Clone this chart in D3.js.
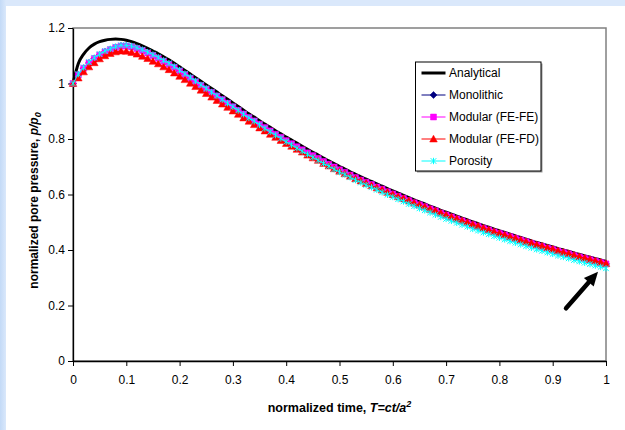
<!DOCTYPE html>
<html>
<head>
<meta charset="utf-8">
<script src="https://cdn.jsdelivr.net/npm/d3@7"></script>
<style>
body { margin: 0; }
text { font-family: "Liberation Sans", Arial, sans-serif; }
</style>
</head>
<body>
<div class="chart"></div>
<script>
// normalized time steps (dt = 0.01)
var timeSteps = [0, 0.01, 0.02, 0.03, 0.04, 0.05, 0.06, 0.07, 0.08, 0.09,
    0.1, 0.11, 0.12, 0.13, 0.14, 0.15, 0.16, 0.17, 0.18, 0.19,
    0.2, 0.21, 0.22, 0.23, 0.24, 0.25, 0.26, 0.27, 0.28, 0.29,
    0.3, 0.31, 0.32, 0.33, 0.34, 0.35, 0.36, 0.37, 0.38, 0.39,
    0.4, 0.41, 0.42, 0.43, 0.44, 0.45, 0.46, 0.47, 0.48, 0.49,
    0.5, 0.51, 0.52, 0.53, 0.54, 0.55, 0.56, 0.57, 0.58, 0.59,
    0.6, 0.61, 0.62, 0.63, 0.64, 0.65, 0.66, 0.67, 0.68, 0.69,
    0.7, 0.71, 0.72, 0.73, 0.74, 0.75, 0.76, 0.77, 0.78, 0.79,
    0.8, 0.81, 0.82, 0.83, 0.84, 0.85, 0.86, 0.87, 0.88, 0.89,
    0.9, 0.91, 0.92, 0.93, 0.94, 0.95, 0.96, 0.97, 0.98, 0.99, 1];

var analytical = [1.000, 1.072, 1.106, 1.128, 1.142, 1.151, 1.156, 1.159, 1.160, 1.159,
    1.156, 1.151, 1.144, 1.136, 1.127, 1.117, 1.107, 1.096, 1.085, 1.073,
    1.060, 1.047, 1.034, 1.021, 1.008, 0.995, 0.982, 0.969, 0.956, 0.943,
    0.930, 0.917, 0.904, 0.891, 0.879, 0.866, 0.854, 0.842, 0.830, 0.819,
    0.807, 0.796, 0.785, 0.774, 0.763, 0.752, 0.742, 0.731, 0.721, 0.711,
    0.701, 0.692, 0.682, 0.673, 0.664, 0.655, 0.647, 0.638, 0.630, 0.621,
    0.613, 0.605, 0.597, 0.589, 0.581, 0.573, 0.566, 0.558, 0.551, 0.543,
    0.536, 0.529, 0.522, 0.515, 0.508, 0.501, 0.495, 0.488, 0.482, 0.475,
    0.469, 0.463, 0.457, 0.451, 0.445, 0.439, 0.433, 0.427, 0.422, 0.416,
    0.411, 0.405, 0.400, 0.395, 0.389, 0.384, 0.379, 0.374, 0.369, 0.364, 0.359];

var monolithic = [1.000, 1.031, 1.055, 1.074, 1.090, 1.103, 1.114, 1.122, 1.130, 1.135,
    1.135, 1.132, 1.126, 1.119, 1.110, 1.101, 1.091, 1.080, 1.069, 1.058,
    1.045, 1.032, 1.019, 1.006, 0.993, 0.980, 0.968, 0.955, 0.942, 0.929,
    0.916, 0.903, 0.890, 0.877, 0.865, 0.853, 0.841, 0.829, 0.817, 0.806,
    0.794, 0.783, 0.772, 0.761, 0.750, 0.740, 0.730, 0.719, 0.709, 0.699,
    0.689, 0.680, 0.670, 0.661, 0.652, 0.644, 0.636, 0.627, 0.619, 0.610,
    0.602, 0.594, 0.586, 0.578, 0.570, 0.563, 0.556, 0.548, 0.541, 0.533,
    0.526, 0.519, 0.512, 0.505, 0.498, 0.491, 0.485, 0.478, 0.472, 0.465,
    0.460, 0.454, 0.448, 0.442, 0.436, 0.430, 0.424, 0.418, 0.413, 0.407,
    0.402, 0.396, 0.391, 0.386, 0.380, 0.375, 0.370, 0.365, 0.360, 0.355, 0.350];

var modularFeFe = [1.000, 1.031, 1.055, 1.074, 1.090, 1.103, 1.114, 1.122, 1.130, 1.135,
    1.135, 1.132, 1.126, 1.119, 1.110, 1.101, 1.091, 1.080, 1.069, 1.058,
    1.045, 1.032, 1.019, 1.006, 0.993, 0.980, 0.968, 0.955, 0.942, 0.929,
    0.916, 0.903, 0.890, 0.877, 0.865, 0.853, 0.841, 0.829, 0.817, 0.806,
    0.794, 0.783, 0.772, 0.761, 0.750, 0.740, 0.730, 0.719, 0.709, 0.699,
    0.689, 0.680, 0.670, 0.661, 0.652, 0.644, 0.636, 0.627, 0.619, 0.610,
    0.602, 0.594, 0.586, 0.578, 0.570, 0.563, 0.556, 0.548, 0.541, 0.533,
    0.526, 0.519, 0.512, 0.505, 0.498, 0.491, 0.485, 0.478, 0.472, 0.465,
    0.460, 0.454, 0.448, 0.442, 0.436, 0.430, 0.424, 0.418, 0.413, 0.407,
    0.402, 0.396, 0.391, 0.386, 0.380, 0.375, 0.370, 0.365, 0.360, 0.355, 0.350];

var modularFeFd = [1.000, 1.020, 1.042, 1.060, 1.075, 1.089, 1.100, 1.108, 1.114, 1.117,
    1.116, 1.112, 1.106, 1.098, 1.090, 1.080, 1.071, 1.060, 1.050, 1.038,
    1.026, 1.014, 1.001, 0.989, 0.976, 0.964, 0.951, 0.939, 0.926, 0.914,
    0.901, 0.889, 0.876, 0.864, 0.852, 0.840, 0.829, 0.817, 0.806, 0.795,
    0.784, 0.774, 0.763, 0.753, 0.742, 0.732, 0.723, 0.712, 0.703, 0.693,
    0.684, 0.675, 0.666, 0.657, 0.649, 0.640, 0.632, 0.624, 0.616, 0.608,
    0.600, 0.592, 0.585, 0.577, 0.569, 0.562, 0.555, 0.547, 0.541, 0.533,
    0.526, 0.519, 0.512, 0.505, 0.499, 0.492, 0.486, 0.479, 0.473, 0.466,
    0.460, 0.454, 0.448, 0.442, 0.436, 0.430, 0.425, 0.419, 0.414, 0.408,
    0.403, 0.397, 0.392, 0.387, 0.381, 0.376, 0.371, 0.366, 0.361, 0.356, 0.351];

var porosity = [1.000, 1.034, 1.058, 1.077, 1.093, 1.106, 1.117, 1.125, 1.133, 1.138,
    1.138, 1.135, 1.129, 1.122, 1.113, 1.104, 1.094, 1.083, 1.073, 1.061,
    1.048, 1.035, 1.022, 1.009, 0.995, 0.982, 0.969, 0.956, 0.942, 0.929,
    0.916, 0.903, 0.889, 0.876, 0.864, 0.851, 0.838, 0.826, 0.814, 0.802,
    0.790, 0.779, 0.767, 0.756, 0.745, 0.734, 0.723, 0.712, 0.702, 0.691,
    0.681, 0.672, 0.662, 0.652, 0.643, 0.634, 0.626, 0.617, 0.608, 0.599,
    0.591, 0.583, 0.575, 0.566, 0.558, 0.550, 0.543, 0.535, 0.527, 0.519,
    0.512, 0.505, 0.498, 0.491, 0.484, 0.476, 0.470, 0.463, 0.457, 0.450,
    0.444, 0.438, 0.432, 0.426, 0.420, 0.414, 0.408, 0.402, 0.397, 0.391,
    0.386, 0.380, 0.375, 0.370, 0.364, 0.359, 0.354, 0.349, 0.344, 0.339, 0.334];

var xTicks = [0, 0.1, 0.2, 0.3, 0.4, 0.5, 0.6, 0.7, 0.8, 0.9, 1];
var yTicks = [0, 0.2, 0.4, 0.6, 0.8, 1, 1.2];
var xTickLabels = ["0", "0.1", "0.2", "0.3", "0.4", "0.5", "0.6", "0.7", "0.8", "0.9", "1"];
var yTickLabels = ["0", "0.2", "0.4", "0.6", "0.8", "1", "1.2"];

var seriesNames = ["Analytical", "Monolithic", "Modular (FE-FE)", "Modular (FE-FD)", "Porosity"];
var seriesValues = [analytical, monolithic, modularFeFe, modularFeFd, porosity];

var svgWidth = 625;
var svgHeight = 430;

var margin = { top: 28, right: 19, bottom: 69, left: 73 };
var width = svgWidth - margin.left - margin.right;
var height = svgHeight - margin.top - margin.bottom;

var colors = ["#000000", "#000080", "#FF00FF", "#FF0000", "#00FFFF"];

// marker shapes (path strings centred at 0,0)
var shapes = [
    null,
    "M0,-3.5L3.5,0L0,3.5L-3.5,0Z",
    "M-3,-3L3,-3L3,3L-3,3Z",
    "M0,-3.8L3.8,3L-3.8,3Z",
    "M-2.8,-2.8L2.8,2.8M-2.8,2.8L2.8,-2.8M0,-3.2L0,3.2"
];

var svg = d3.select(".chart")
    .append("svg")
    .attr("width", svgWidth)
    .attr("height", svgHeight);

// light blue frame around a white page
var grad = svg.append("defs").append("linearGradient")
    .attr("id", "leftEdge")
    .attr("x1", "0").attr("x2", "1").attr("y1", "0").attr("y2", "0");
grad.append("stop").attr("offset", "0").attr("stop-color", "#C3DAF7");
grad.append("stop").attr("offset", "1").attr("stop-color", "#DAE8FB");

svg.append("rect")
    .attr("width", svgWidth).attr("height", svgHeight)
    .attr("fill", "#DAE8FB");
svg.append("rect")
    .attr("width", 6).attr("height", svgHeight)
    .attr("fill", "url(#leftEdge)");
svg.append("rect")
    .attr("x", 6).attr("y", 6)
    .attr("width", svgWidth - 6).attr("height", svgHeight - 6)
    .attr("fill", "#ffffff");

var chartGroup = svg.append("g")
    .attr("transform", `translate(${margin.left}, ${margin.top})`);

var xScale = d3.scaleLinear().domain([0, 1]).range([0, width]);
var yScale = d3.scaleLinear().domain([0, 1.2]).range([height, 0]);

// plot frame (gray top/right)
chartGroup.append("rect")
    .attr("width", width).attr("height", height)
    .attr("fill", "none")
    .attr("stroke", "#808080")
    .attr("stroke-width", 1.5);

var bottomAxis = d3.axisBottom(xScale)
    .tickValues(xTicks)
    .tickSize(5)
    .tickSizeOuter(0)
    .tickFormat((d, i) => xTickLabels[i]);
var leftAxis = d3.axisLeft(yScale)
    .tickValues(yTicks)
    .tickSize(5)
    .tickSizeOuter(0)
    .tickFormat((d, i) => yTickLabels[i]);

var xAxisG = chartGroup.append("g")
    .attr("transform", `translate(0, ${height})`)
    .call(bottomAxis);
var yAxisG = chartGroup.append("g")
    .call(leftAxis);

[xAxisG, yAxisG].forEach(function(g) {
    g.attr("font-family", "'Liberation Sans', Arial, sans-serif");
    g.select(".domain").attr("stroke", "#000").attr("stroke-width", 1.3);
    g.selectAll(".tick line").attr("stroke", "#000");
    g.selectAll(".tick text")
        .attr("font-size", "12px")
        .attr("fill", "#000");
});
xAxisG.selectAll(".tick text").attr("y", 14);
yAxisG.selectAll(".tick text").attr("x", -8);

// series
var line = d3.line()
    .x((d, i) => xScale(timeSteps[i]))
    .y(d => yScale(d));

seriesValues.forEach(function(vals, s) {
    chartGroup.append("path")
        .datum(vals)
        .attr("fill", "none")
        .attr("stroke", colors[s])
        .attr("stroke-width", s === 0 ? 3 : 1)
        .attr("d", s === 0 ? line.curve(d3.curveMonotoneX)(vals) : line.curve(d3.curveLinear)(vals));

    if (shapes[s]) {
        chartGroup.append("g")
            .selectAll("path")
            .data(vals)
            .enter()
            .append("path")
            .attr("transform", (d, i) => `translate(${xScale(timeSteps[i])}, ${yScale(d)})`)
            .attr("d", shapes[s])
            .attr("fill", s === 4 ? "none" : colors[s])
            .attr("stroke", colors[s])
            .attr("stroke-width", s === 4 ? 1 : 0.5);
    }
});

// arrow pointing to the end of the curves
var tip = [xScale(0.985), yScale(0.322)];
var tail = [xScale(0.925), yScale(0.19)];
var ang = Math.atan2(tip[1] - tail[1], tip[0] - tail[0]);
var headLen = 14, headHalf = 6.5;
var base = [tip[0] - headLen * Math.cos(ang), tip[1] - headLen * Math.sin(ang)];
chartGroup.append("line")
    .attr("x1", tail[0]).attr("y1", tail[1])
    .attr("x2", base[0]).attr("y2", base[1])
    .attr("stroke", "#000")
    .attr("stroke-width", 4.5)
    .attr("stroke-linecap", "round");
chartGroup.append("path")
    .attr("d", "M" + tip[0] + "," + tip[1] +
        "L" + (base[0] - headHalf * Math.sin(ang)) + "," + (base[1] + headHalf * Math.cos(ang)) +
        "L" + (base[0] + headHalf * Math.sin(ang)) + "," + (base[1] - headHalf * Math.cos(ang)) + "Z")
    .attr("fill", "#000");

// legend
var legendX = 415.5, legendY = 62;
var legendW = 125.5, legendH = 109;
svg.append("rect")
    .attr("x", legendX + 1.5).attr("y", legendY + 1.5)
    .attr("width", legendW).attr("height", legendH)
    .attr("fill", "#9a9a9a");
svg.append("rect")
    .attr("x", legendX).attr("y", legendY)
    .attr("width", legendW).attr("height", legendH)
    .attr("fill", "#fff")
    .attr("stroke", "#000")
    .attr("stroke-width", 1);

var legendItems = svg.selectAll(".legendItem")
    .data(seriesNames)
    .enter()
    .append("g")
    .attr("transform", (d, i) => `translate(${legendX}, ${legendY + 11 + i * 22})`);

legendItems.append("line")
    .attr("x1", 6).attr("x2", 30)
    .attr("stroke", (d, i) => colors[i])
    .attr("stroke-width", (d, i) => i === 0 ? 3 : 1);

legendItems.filter((d, i) => shapes[i] !== null)
    .append("path")
    .attr("transform", "translate(18, 0)")
    .attr("d", d => shapes[seriesNames.indexOf(d)])
    .attr("fill", d => seriesNames.indexOf(d) === 4 ? "none" : colors[seriesNames.indexOf(d)])
    .attr("stroke", d => colors[seriesNames.indexOf(d)])
    .attr("stroke-width", d => seriesNames.indexOf(d) === 4 ? 1 : 0.5);

legendItems.append("text")
    .attr("x", 33.5)
    .attr("dy", "0.36em")
    .attr("font-size", "12px")
    .attr("fill", "#000")
    .text(d => d);

// axis titles
var xTitle = svg.append("text")
    .attr("x", margin.left + width / 2)
    .attr("y", 412)
    .attr("text-anchor", "middle")
    .attr("font-size", "12.5px")
    .attr("font-weight", "bold");
xTitle.append("tspan").text("normalized time, ");
xTitle.append("tspan").attr("font-style", "italic").text("T=ct/a");
xTitle.append("tspan").attr("font-style", "italic").attr("font-size", "9px").attr("dy", "-5").text("2");

var yTitle = svg.append("text")
    .attr("transform", `translate(38, ${margin.top + height / 2 + 6}) rotate(-90)`)
    .attr("text-anchor", "middle")
    .attr("font-size", "12px")
    .attr("font-weight", "bold");
yTitle.append("tspan").text("normalized pore pressure,  ");
yTitle.append("tspan").attr("font-style", "italic").text("p/p");
yTitle.append("tspan").attr("font-style", "italic").attr("font-size", "9px").attr("dy", "3").text("0");
</script>
</body>
</html>
